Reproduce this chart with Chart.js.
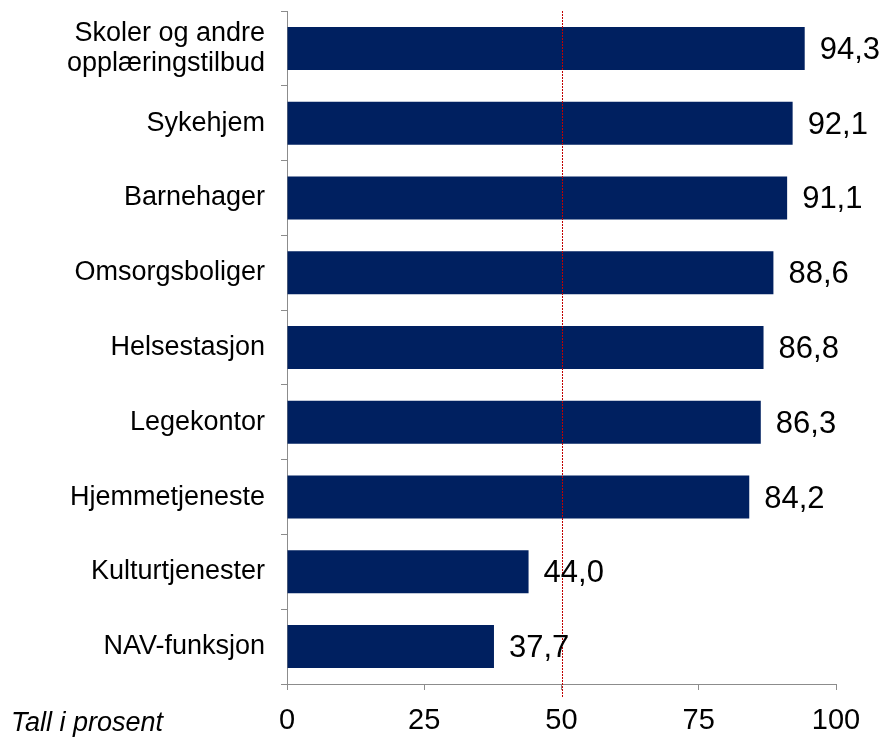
<!DOCTYPE html>
<html>
<head>
<meta charset="utf-8">
<script src="https://cdn.jsdelivr.net/npm/chart.js@4"></script>
<style>
  html, body { margin: 0; padding: 0; background: #fff; }
  #wrap { width: 882px; height: 738px; position: relative; }
</style>
</head>
<body>
<div id="wrap"><canvas id="chart" width="882" height="738"></canvas></div>
<script>
// categories, values and ticks
const categories = [
  ["Skoler og andre", "opplæringstilbud"],
  "Sykehjem",
  "Barnehager",
  "Omsorgsboliger",
  "Helsestasjon",
  "Legekontor",
  "Hjemmetjeneste",
  "Kulturtjenester",
  "NAV-funksjon"
];
const values = [94.3, 92.1, 91.1, 88.6, 86.8, 86.3, 84.2, 44.0, 37.7];
const xTicks = [0, 25, 50, 75, 100];
const refValue = 50;
const footnote = "Tall i prosent";

const font = "'Liberation Sans', Arial, sans-serif";

// value labels, the dotted 50-line and the footnote
const extras = {
  id: "extras",
  afterDatasetsDraw(chart) {
    const ctx = chart.ctx;
    const area = chart.chartArea;
    const x = chart.scales.x;

    // dotted reference line
    const rx = Math.round(x.getPixelForValue(refValue)) + 0.5;
    ctx.save();
    ctx.strokeStyle = "#c00000";
    ctx.lineWidth = 1;
    ctx.setLineDash([2, 1]);
    ctx.beginPath();
    ctx.moveTo(rx, area.top);
    ctx.lineTo(rx, area.bottom + 14);
    ctx.stroke();
    ctx.restore();

    // bar values
    ctx.save();
    ctx.font = "31px " + font;
    ctx.fillStyle = "#000";
    ctx.textAlign = "left";
    ctx.textBaseline = "middle";
    chart.getDatasetMeta(0).data.forEach((bar, i) => {
      const txt = values[i].toFixed(1).replace(".", ",");
      ctx.fillText(txt, bar.x + 15, bar.y + 2);
    });

    // footnote
    ctx.font = "italic 27px " + font;
    ctx.textBaseline = "alphabetic";
    ctx.fillText(footnote, 11, 731);
    ctx.restore();
  }
};

new Chart(document.getElementById("chart"), {
  type: "bar",
  data: {
    labels: categories,
    datasets: [{
      data: values,
      backgroundColor: "#002060",
      borderWidth: 0,
      barPercentage: 0.575,
      categoryPercentage: 1
    }]
  },
  options: {
    indexAxis: "y",
    responsive: false,
    animation: false,
    layout: { padding: { top: 11, right: 46, left: 0, bottom: 0 } },
    plugins: {
      legend: { display: false },
      tooltip: { enabled: false }
    },
    scales: {
      x: {
        min: 0,
        max: 100,
        afterBuildTicks(axis) {
          axis.ticks = xTicks.map((v) => ({ value: v }));
        },
        afterFit(axis) {
          axis.height = 54;
          axis.paddingLeft = 0;
          axis.paddingRight = 0;
        },
        border: { color: "#8c8c8c", width: 1 },
        grid: { drawOnChartArea: false, tickLength: 6, color: "#8c8c8c" },
        ticks: { color: "#000", padding: 14, font: { size: 29, family: font }, maxRotation: 0 }
      },
      y: {
        afterFit(axis) {
          axis.width = 287;
          axis.paddingTop = 0;
          axis.paddingBottom = 0;
        },
        border: { color: "#8c8c8c", width: 1 },
        grid: { drawOnChartArea: false, tickLength: 6, color: "#8c8c8c", offset: true },
        ticks: { color: "#000", padding: 16, font: { size: 27, family: font, lineHeight: 1.12 } }
      }
    }
  },
  plugins: [extras]
});
</script>
</body>
</html>
